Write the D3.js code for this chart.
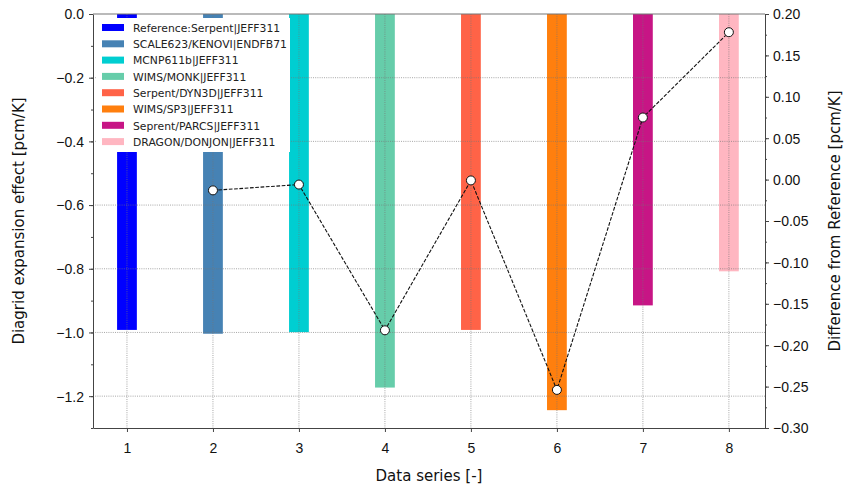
<!DOCTYPE html>
<html>
<head>
<meta charset="utf-8">
<script src="https://cdn.jsdelivr.net/npm/d3@7"></script>
<style>
  body { margin: 0; background: #fff; }
  svg { font-family: "DejaVu Sans", sans-serif; }
</style>
</head>
<body>
<script>
// Data
const series = [1, 2, 3, 4, 5, 6, 7, 8];
const labels = ["Reference:Serpent|JEFF311", "SCALE623/KENOVI|ENDFB71", "MCNP611b|JEFF311",
  "WIMS/MONK|JEFF311", "Serpent/DYN3D|JEFF311", "WIMS/SP3|JEFF311",
  "Seprent/PARCS|JEFF311", "DRAGON/DONJON|JEFF311"];
const effect = [-0.992, -1.004, -0.999, -1.173, -0.992, -1.244, -0.915, -0.808];
const diffSeries = [2, 3, 4, 5, 6, 7, 8];
const diff = [-0.013, -0.006, -0.182, -0.001, -0.254, 0.075, 0.178];
const colors = ["#0000ff", "#4682b4", "#00ced1", "#66cdaa", "#ff6347", "#ff7f0e", "#c71585", "#ffb6c1"];
const leftTicks = [0, -0.2, -0.4, -0.6, -0.8, -1.0, -1.2];
const rightTicks = [0.2, 0.15, 0.1, 0.05, 0, -0.05, -0.1, -0.15, -0.2, -0.25, -0.3];

const width = 857, height = 491;
const m = {top: 14, right: 92, bottom: 63, left: 93};

const svg = d3.select("body").append("svg")
    .attr("width", width).attr("height", height);

const x = d3.scaleLinear().domain([0.605, 8.42]).range([m.left, width - m.right]);
const y = d3.scaleLinear().domain([-1.3, 0]).range([height - m.bottom, m.top]);
const y2 = d3.scaleLinear().domain([-0.3, 0.2]).range([height - m.bottom, m.top]);

const fmtMinus = f => v => f(v).replace("-", "\u2212");
const barW = x(1.115) - x(0.885);

// Bars
svg.append("g").selectAll("rect")
  .data(series)
  .enter().append("rect")
    .attr("x", d => x(d) - barW / 2)
    .attr("y", y(0))
    .attr("width", barW)
    .attr("height", (d, i) => y(effect[i]) - y(0))
    .attr("fill", (d, i) => colors[i]);

// Grid (drawn over bars)
const grid = svg.append("g").attr("stroke", "#777").attr("stroke-width", 0.8)
    .attr("stroke-dasharray", "1,1.2").attr("opacity", 0.8);
grid.selectAll(".vg").data(series).enter().append("line")
    .attr("x1", d => x(d)).attr("x2", d => x(d))
    .attr("y1", m.top).attr("y2", height - m.bottom);
grid.selectAll(".hg").data(leftTicks.slice(1)).enter().append("line")
    .attr("x1", m.left).attr("x2", width - m.right)
    .attr("y1", d => y(d)).attr("y2", d => y(d));

// Axes
const axColor = "#444";
const xAxis = svg.append("g")
    .attr("transform", `translate(0,${height - m.bottom})`)
    .call(d3.axisBottom(x).tickValues(series).tickFormat(d3.format("d")).tickSize(4).tickSizeOuter(0));
const yAxis = svg.append("g")
    .attr("transform", `translate(${m.left},0)`)
    .call(d3.axisLeft(y).tickValues(leftTicks).tickFormat(fmtMinus(d3.format(".1f"))).tickSize(4).tickSizeOuter(0));
const yAxis2 = svg.append("g")
    .attr("transform", `translate(${width - m.right},0)`)
    .call(d3.axisRight(y2).tickValues(rightTicks).tickFormat(fmtMinus(d3.format(".2f"))).tickSize(4).tickSizeOuter(0));

// Minor ticks
svg.append("g").attr("transform", `translate(${m.left},0)`)
  .call(d3.axisLeft(y).tickValues(d3.range(-1.3, 0.01, 0.1)).tickFormat("").tickSize(2).tickSizeOuter(0))
  .call(g => g.select(".domain").remove());
svg.append("g").attr("transform", `translate(${width - m.right},0)`)
  .call(d3.axisRight(y2).tickValues(d3.range(-0.3, 0.201, 0.025)).tickFormat("").tickSize(2).tickSizeOuter(0))
  .call(g => g.select(".domain").remove());

[xAxis, yAxis, yAxis2].forEach(a => {
  a.selectAll("text").attr("font-size", 14).attr("fill", "#111");
  a.selectAll("line").attr("stroke", axColor);
  a.select(".domain").attr("stroke", axColor);
});
xAxis.selectAll("text").attr("dy", "1.3em");
yAxis.selectAll("text").attr("x", -9).attr("dy", "0.35em");
yAxis2.selectAll("text").attr("x", 8).attr("dy", "0.35em");
svg.selectAll(".tick line").attr("stroke", axColor);

// Top spine
svg.append("line").attr("x1", m.left).attr("x2", width - m.right)
    .attr("y1", m.top).attr("y2", m.top).attr("stroke", "#777").attr("stroke-width", 1.2);

// Legend
const lg = svg.append("g");
lg.append("rect").attr("x", 96).attr("y", 18).attr("width", 194).attr("height", 134)
    .attr("fill", "#fff").attr("stroke", "none");
const rows = lg.selectAll(".row").data(labels).enter().append("g")
    .attr("transform", (d, i) => `translate(102,${28 + i * 16.3})`);
rows.append("rect").attr("x", 0).attr("y", -4).attr("width", 22).attr("height", 7)
    .attr("fill", (d, i) => colors[i]);
rows.append("text").attr("x", 31).attr("y", 0).attr("dy", "0.35em")
    .attr("font-size", 10.8).attr("fill", "#222").text(d => d);

// Difference line
const line = d3.line().x((d, i) => x(diffSeries[i])).y(d => y2(d));
svg.append("path").datum(diff)
    .attr("d", line).attr("fill", "none").attr("stroke", "#111")
    .attr("stroke-width", 1.1).attr("stroke-dasharray", "3.7,1.6");
svg.append("g").selectAll("circle").data(diff).enter().append("circle")
    .attr("cx", (d, i) => x(diffSeries[i])).attr("cy", d => y2(d)).attr("r", 4.5)
    .attr("fill", "#fff").attr("stroke", "#111").attr("stroke-width", 1);

// Axis titles
svg.append("text").attr("x", (m.left + width - m.right) / 2).attr("y", 481)
    .attr("text-anchor", "middle").attr("font-size", 15).attr("fill", "#111").text("Data series [-]");
svg.append("text").attr("transform", `translate(24,${(m.top + height - m.bottom) / 2}) rotate(-90)`)
    .attr("text-anchor", "middle").attr("font-size", 15).attr("fill", "#111")
    .text("Diagrid expansion effect [pcm/K]");
svg.append("text").attr("transform", `translate(840,${(m.top + height - m.bottom) / 2}) rotate(-90)`)
    .attr("text-anchor", "middle").attr("font-size", 15).attr("fill", "#111")
    .text("Difference from Reference [pcm/K]");
</script>
</body>
</html>
